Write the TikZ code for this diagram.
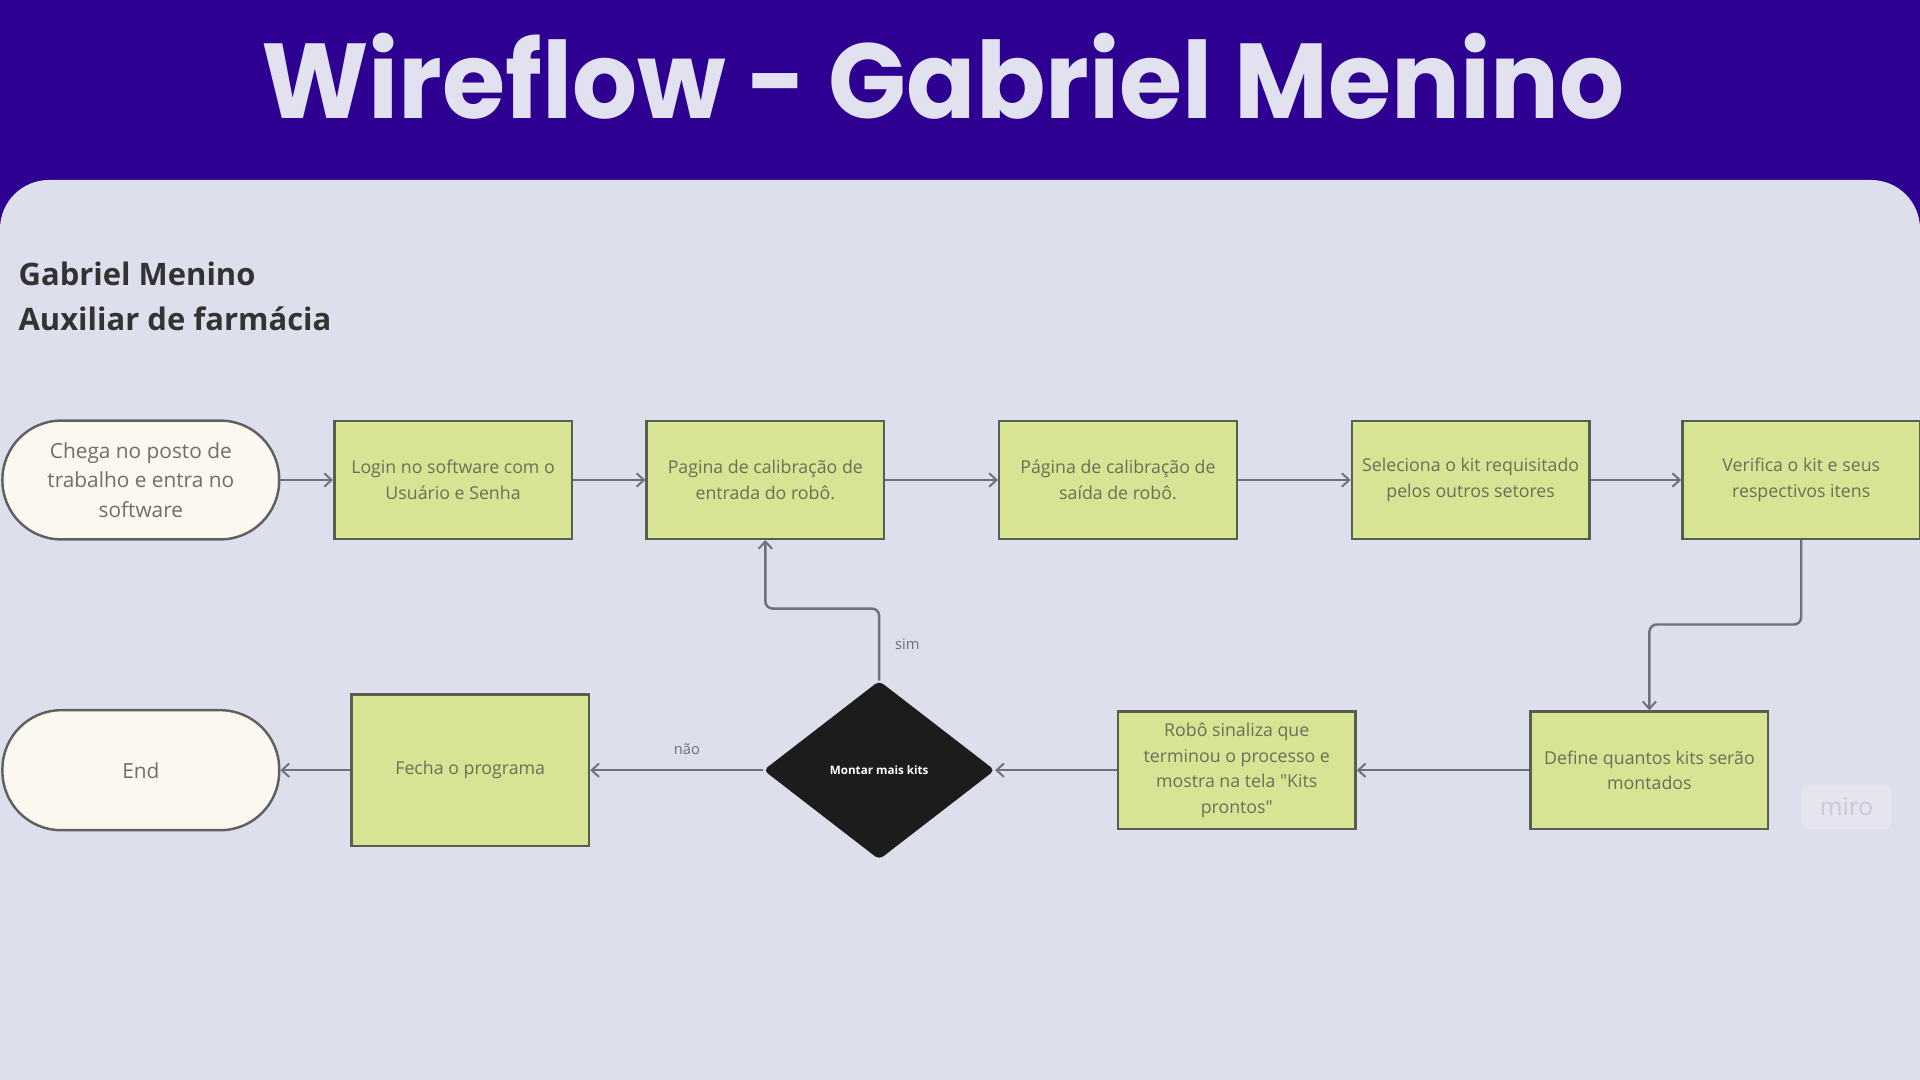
\documentclass[tikz,border=0pt]{standalone}
\usepackage{fontspec}
\setmainfont{Open Sans}[Ligatures=TeXOff]
\newfontfamily\titlefont{Poppins}
\usetikzlibrary{arrows.meta,shapes.geometric}
\definecolor{titlebg}{RGB}{45,0,145}
\definecolor{titletext}{RGB}{225,225,240}
\definecolor{panel}{RGB}{222,223,236}
\definecolor{boxfill}{RGB}{214,228,147}
\definecolor{boxborder}{RGB}{88,94,80}
\definecolor{boxtext}{RGB}{105,112,88}
\definecolor{termfill}{RGB}{251,248,240}
\definecolor{termborder}{RGB}{96,96,96}
\definecolor{termtext}{RGB}{110,110,110}
\definecolor{arrowc}{RGB}{110,113,125}
\definecolor{diamc}{RGB}{28,28,28}
\definecolor{namec}{RGB}{51,51,51}
\definecolor{miroc}{RGB}{200,201,214}
\definecolor{mirobg}{RGB}{228,229,239}
\tikzset{
  procbox/.style={draw=boxborder, line width=2pt, fill=boxfill, minimum width=194pt, minimum height=96pt,
    inner sep=0pt, align=center, text=boxtext, font=\fontsize{14.5}{21}\selectfont},
  termbox/.style={draw=termborder, line width=2pt, fill=termfill, minimum width=226pt, minimum height=97pt,
    rounded corners=48pt, inner sep=0pt, align=center, text=termtext, font=\fontsize{17}{24}\selectfont},
  decbox/.style={diamond, fill=diamc, minimum width=189pt, minimum height=146pt, inner sep=0pt,
    rounded corners=4pt, text=white, font=\bfseries\fontsize{9.5}{11}\selectfont},
  arr/.style={draw=arrowc, line width=2pt, -{Straight Barb[length=6pt,width=11pt,line width=1.6pt]}},
  lbl/.style={text=termtext, font=\fontsize{12}{14}\selectfont, inner sep=0pt},
  nametext/.style={anchor=base west, text=namec, font=\bfseries\fontsize{25.3}{36}\selectfont, inner sep=0pt}
}
\begin{document}
\begin{tikzpicture}[x=1pt,y=1pt]
\useasboundingbox (0,0) rectangle (1568,-882);
\clip (0,0) rectangle (1568,-882);
\fill[titlebg] (0,0) rectangle (1568,-882);
\fill[panel, rounded corners=40pt] (0,-147) rectangle (1568,-960);
\node[anchor=base, text=titletext, font=\titlefont\bfseries\fontsize{87}{96}\selectfont, inner sep=0pt] (title) at (770,-97) {\scalebox{0.96}[1]{Wireflow - Gabriel Menino}};
\node[nametext] (name1) at (15,-233) {Gabriel Menino};
\node[nametext] (name2) at (15,-270) {Auxiliar de farmácia};
% row 1
\node[termbox] (start) at (115,-392) {Chega no posto de\\trabalho e entra no\\software};
\node[procbox] (b1) at (370,-392) {Login no software com o\\Usuário e Senha};
\node[procbox] (b2) at (625,-392) {Pagina de calibração de\\entrada do robô.};
\node[procbox] (b3) at (913,-392) {Página de calibração de\\saída de robô.};
\node[procbox] (b4) at (1201,-392) {Seleciona o kit requisitado\\pelos outros setores};
\node[procbox] (b5) at (1471,-392) {Verifica o kit e seus\\respectivos itens};
% row 2
\node[procbox] (b6) at (1347,-629) {Define quantos kits serão\\montados};
\node[procbox] (b7) at (1010,-629) {Robô sinaliza que\\terminou o processo e\\mostra na tela "Kits\\prontos"};
\node[decbox] (d) at (718,-629) {Montar mais kits};
\node[procbox, minimum height=124pt] (fecha) at (384,-629) {Fecha o programa};
\node[termbox, minimum height=98pt] (end) at (115,-629) {End};
% connectors
\draw[arr] (start) -- (b1);
\draw[arr] (b1) -- (b2);
\draw[arr] (b2) -- (b3);
\draw[arr] (b3) -- (b4);
\draw[arr] (b4) -- (b5);
\draw[arr, rounded corners=6pt] (b5.south) -- (b5.south |- 0,-510) -| (b6.north);
\draw[arr] (b6) -- (b7);
\draw[arr] (b7) -- (d);
\draw[arr] (d) -- (fecha);
\draw[arr] (fecha) -- (end);
\draw[arr, rounded corners=6pt] (d.north) -- (d.north |- 0,-497) -| (b2.south);
\node[lbl] (sim) at (741,-526) {sim};
\node[lbl] (nao) at (561,-612) {não};
% miro watermark
\node[fill=mirobg, rounded corners=4pt, minimum width=73pt, minimum height=36pt, text=miroc, font=\fontsize{20}{22}\selectfont] (miro) at (1508,-659) {miro};
\end{tikzpicture}
\end{document}
